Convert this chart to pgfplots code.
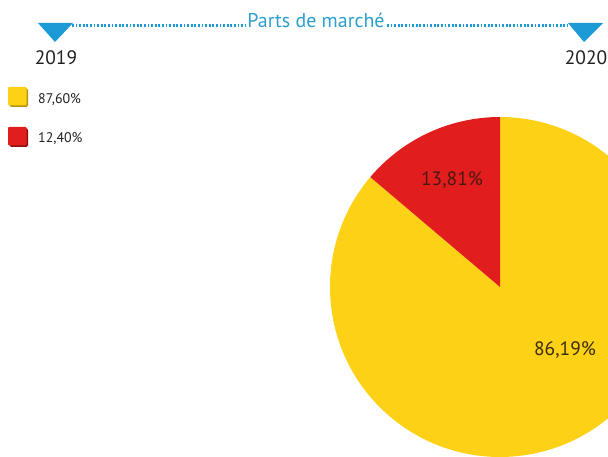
\documentclass[border=0pt]{standalone}
\usepackage{pgfplots}
\pgfplotsset{compat=1.18}
\usepackage{fontspec}
\setmainfont{PT Sans}
\definecolor{pieyellow}{HTML}{FCD116}
\definecolor{yellowdark}{HTML}{B8930E}
\definecolor{piered}{HTML}{E21D1D}
\definecolor{reddark}{HTML}{8E1010}
\definecolor{tricyan}{HTML}{1C9AD6}
\definecolor{titlecyan}{HTML}{2A9FCE}
\definecolor{txt}{HTML}{231F20}
\definecolor{lblred}{HTML}{4A1812}
\definecolor{lblyel}{HTML}{3A2C0E}
% market shares (%)
\def\redA{12.40}\def\yelA{87.60}
\def\redB{13.81}\def\yelB{86.19}
\begin{document}
\begin{tikzpicture}
\useasboundingbox (0,0) rectangle (608bp,457bp);
\begin{axis}[at={(0,0)}, anchor=south west, x=1bp, y=1bp,
  xmin=0, xmax=608, ymin=0, ymax=457, hide axis, clip=true]
\pgfmathsetmacro\ared{90+\redB*3.6}
% pie 2020
\fill[pieyellow] (axis cs:500,170) -- ++(\ared:170bp) arc[start angle=\ared, end angle=450, radius=170bp] -- cycle;
\fill[piered] (axis cs:500,170) -- ++(90:170bp) arc[start angle=90, end angle=\ared, radius=170bp] -- cycle;
\node[font=\fontsize{19.5}{22}\selectfont, text=lblred] at (axis cs:452,277) {13,81\%};
\node[font=\fontsize{19.5}{22}\selectfont, text=lblyel] at (axis cs:565,107) {86,19\%};
% header
\draw[tricyan, line width=2.2bp, dash pattern=on 1.8bp off 1.8bp] (axis cs:72,431.5) -- (axis cs:245,431.5);
\draw[tricyan, line width=2.2bp, dash pattern=on 1.8bp off 1.8bp] (axis cs:387,431.5) -- (axis cs:568,431.5);
\fill[tricyan] (axis cs:38,434) -- (axis cs:73,434) -- (axis cs:55,415) -- cycle;
\fill[tricyan] (axis cs:568,434) -- (axis cs:603,434) -- (axis cs:584,415) -- cycle;
\node[anchor=base, text=titlecyan, font=\fontsize{20}{22}\selectfont, inner sep=0pt] at (axis cs:316,429.5) {Parts de marché};
\node[anchor=base, text=txt, font=\fontsize{19.5}{22}\selectfont] at (axis cs:56,392) {2019};
\node[anchor=base, text=txt, font=\fontsize{19.5}{22}\selectfont] at (axis cs:586,392) {2020};
% legend 2019
\fill[yellowdark, rounded corners=1.5bp] (axis cs:9.5,350) rectangle (axis cs:28,368.5);
\fill[pieyellow, rounded corners=1bp] (axis cs:8,351.5) rectangle (axis cs:26.5,370);
\fill[reddark, rounded corners=1.5bp] (axis cs:9.5,310) rectangle (axis cs:28,328.5);
\fill[piered, rounded corners=1bp] (axis cs:8,311.5) rectangle (axis cs:26.5,330);
\node[anchor=base west, inner sep=0pt, text=txt, font=\fontsize{14}{16}\selectfont] at (axis cs:38,354) {87,60\%};
\node[anchor=base west, inner sep=0pt, text=txt, font=\fontsize{14}{16}\selectfont] at (axis cs:38,315) {12,40\%};
\end{axis}
\end{tikzpicture}
\end{document}
